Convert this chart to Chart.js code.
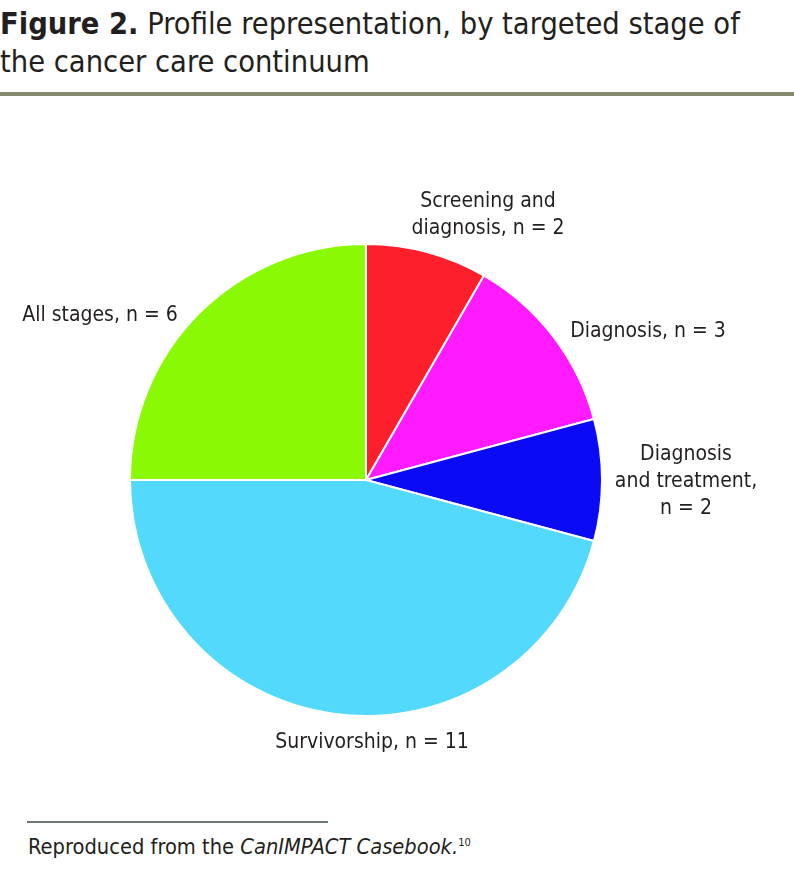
<!DOCTYPE html>
<html>
<head>
<meta charset="utf-8">
<script src="https://cdn.jsdelivr.net/npm/chart.js@4"></script>
<style>
  body { margin: 0; width: 794px; height: 871px; background: #fff; position: relative; overflow: hidden;
         font-family: "Liberation Sans Narrow", "DejaVu Sans Condensed", sans-serif; color: #231f20; }
  #title { position: absolute; left: 0; top: 5px; font-size: 30.5px; line-height: 38px; white-space: nowrap; }
  #title b { font-weight: bold; }
  #rule { position: absolute; left: 0; top: 92px; width: 794px; height: 4px; background: #858a6e; }
  #wrap { position: absolute; left: 0; top: 110px; width: 794px; height: 700px; }
  #foot-rule { position: absolute; left: 27px; top: 821px; width: 301px; height: 2px; background: #6b7775; }
  #foot { position: absolute; left: 28px; top: 834px; font-size: 21.7px; white-space: nowrap; }
  #foot sup { font-size: 11px; }
</style>
</head>
<body>
<div id="title"><b>Figure 2.</b> Profile representation, by targeted stage of<br>the cancer care continuum</div>
<div id="rule"></div>
<div id="wrap"><canvas id="grafPizza"></canvas></div>
<div id="foot-rule"></div>
<div id="foot">Reproduced from the <i>CanIMPACT Casebook.</i><sup>10</sup></div>

<script>
// ------------------------------------------------------
// 1. Dados
// ------------------------------------------------------
const estagios = ["Screening and diagnosis", "Diagnosis", "Diagnosis and treatment", "Survivorship", "All stages"];
const perfis = [2, 3, 2, 11, 6];
const cores = ["#fd1f2b", "#ff1aff", "#0a0af5", "#52d9fb", "#8afa04"];

// linhas de cada rótulo
const rotulos = [
  ["Screening and", "diagnosis, n = 2"],
  ["Diagnosis, n = 3"],
  ["Diagnosis", "and treatment,", "n = 2"],
  ["Survivorship, n = 11"],
  ["All stages, n = 6"]
];

// ------------------------------------------------------
// 2. Plugin para desenhar os rótulos
// ------------------------------------------------------
const posRotulos = [
  { x: 488, y: 92 },
  { x: 648, y: 222 },
  { x: 686, y: 345 },
  { x: 372, y: 633 },
  { x: 100, y: 206 }
];

const pluginRotulos = {
  id: "rotulos",
  afterDraw(chart) {
    const ctx = chart.ctx;
    ctx.save();
    ctx.font = '21px "Liberation Sans Narrow", "DejaVu Sans Condensed", sans-serif';
    ctx.fillStyle = "#231f20";
    ctx.textAlign = "center";
    ctx.textBaseline = "middle";
    rotulos.forEach((linhas, i) => {
      const p = posRotulos[i];
      linhas.forEach((l, j) => {
        ctx.fillText(l, p.x, p.y + j * 27);
      });
    });
    ctx.restore();
  }
};

// ------------------------------------------------------
// 3. Gráfico
// ------------------------------------------------------
new Chart(document.getElementById("grafPizza"), {
  type: "pie",
  data: {
    labels: estagios,
    datasets: [{
      data: perfis,
      backgroundColor: cores,
      borderColor: "#ffffff",
      borderWidth: 2
    }]
  },
  options: {
    responsive: true,
    maintainAspectRatio: false,
    animation: false,
    layout: { padding: { left: 129, right: 191, top: 133, bottom: 93 } },
    plugins: {
      legend: { display: false },
      tooltip: { enabled: false }
    }
  },
  plugins: [pluginRotulos]
});
</script>
</body>
</html>
